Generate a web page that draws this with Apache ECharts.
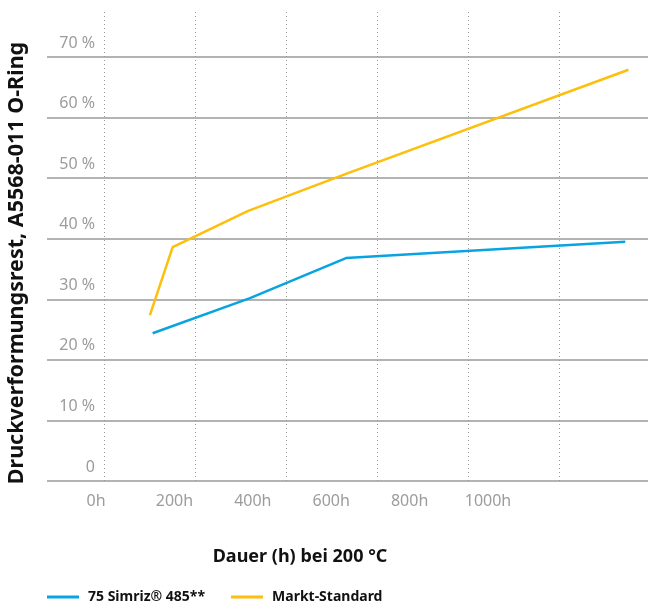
<!DOCTYPE html>
<html>
<head>
<meta charset="utf-8">
<script src="https://cdn.jsdelivr.net/npm/echarts@6/dist/echarts.min.js"></script>
<style>
    html, body { margin: 0; padding: 0; background: #fff; }
    #chart { width: 648px; height: 607px; }
</style>
</head>
<body>
<div id="chart"></div>
<script>
// Druckverformungsrest over time at 200 °C
const seriesNames = ['75 Simriz® 485**', 'Markt-Standard'];
const simrizPoints = [[107, 24.4], [321, 30.2], [532, 36.8], [1146, 39.5]];
const standardPoints = [[101, 27.4], [151, 38.6], [317, 44.6], [532, 50.7], [1153, 67.9]];
const xTickLabels = ['0h', '200h', '400h', '600h', '800h', '1000h'];
const yTickLabels = ['0', '10 %', '20 %', '30 %', '40 %', '50 %', '60 %', '70 %'];

const FONT = 'Noto Sans';
const GRAY = '#9c9c9c';

const chart = echarts.init(document.getElementById('chart'), null, { renderer: 'canvas' });

chart.setOption({
    backgroundColor: '#fff',
    animation: false,
    textStyle: { fontFamily: FONT },
    grid: [
        // horizontal grid lines + y labels
        { left: 47, right: 0, top: 57, bottom: 126 },
        // data + dotted vertical lines
        { left: 13, right: 0, top: 12, bottom: 126 },
        // x tick labels (spaced independently in the original)
        { left: 17.6, right: 81.6, top: 57, bottom: 126 }
    ],
    xAxis: [
        { gridIndex: 0, type: 'value', show: false, min: 0, max: 1 },
        {
            gridIndex: 1, type: 'value', min: -200, max: 1196, interval: 200,
            axisLine: { show: false }, axisTick: { show: false }, axisLabel: { show: false },
            splitLine: {
                show: true, showMinLine: false, showMaxLine: false,
                lineStyle: { color: '#999', width: 1, type: [1, 3] }
            }
        },
        {
            gridIndex: 2, type: 'value', min: -200, max: 1200, interval: 200,
            axisLine: { show: false }, axisTick: { show: false }, splitLine: { show: false },
            axisLabel: {
                margin: 12, color: GRAY, fontSize: 16, fontFamily: FONT,
                showMinLabel: true, showMaxLabel: true,
                formatter: v => {
                    const i = Math.round(v / 200);
                    return (i >= 0 && i < xTickLabels.length) ? xTickLabels[i] : '';
                }
            }
        }
    ],
    yAxis: [
        {
            gridIndex: 0, type: 'value', min: 0, max: 70, interval: 10,
            axisLine: { show: false }, axisTick: { show: false },
            splitLine: { show: true, lineStyle: { color: '#9a9a9a', width: 1.5 } },
            axisLabel: {
                margin: -48, color: GRAY, fontSize: 16, fontFamily: FONT,
                align: 'right', verticalAlign: 'bottom', padding: [0, 0, 6, 0],
                formatter: v => yTickLabels[Math.round(v / 10)] || ''
            }
        },
        { gridIndex: 1, type: 'value', min: 0, max: 77.43, show: false },
        { gridIndex: 2, type: 'value', min: 0, max: 1, show: false }
    ],
    legend: {
        left: 47, top: 590, padding: 0,
        itemWidth: 32, itemHeight: 3, itemGap: 26,
        icon: 'rect',
        textStyle: { fontFamily: FONT, fontSize: 14, fontWeight: 'bold', color: '#111', padding: [0, 0, 0, 4] },
        data: seriesNames
    },
    series: [
        {
            name: seriesNames[0], type: 'line', xAxisIndex: 1, yAxisIndex: 1,
            data: simrizPoints, symbol: 'none', color: '#0aa3e2',
            lineStyle: { width: 2.5, color: '#0aa3e2' }
        },
        {
            name: seriesNames[1], type: 'line', xAxisIndex: 1, yAxisIndex: 1,
            data: standardPoints, symbol: 'none', color: '#fdbf0a',
            lineStyle: { width: 2.5, color: '#fdbf0a' }
        }
    ],
    graphic: [
        {
            type: 'text', x: 17, y: 263, rotation: Math.PI / 2,
            style: {
                text: 'Druckverformungsrest, A5568-011 O-Ring',
                font: 'bold 21.5px "Noto Sans"', fill: '#111',
                align: 'center', verticalAlign: 'middle'
            }
        },
        {
            type: 'text', x: 300, y: 557,
            style: {
                text: 'Dauer (h) bei 200 °C',
                font: 'bold 18px "Noto Sans"', fill: '#111',
                align: 'center', verticalAlign: 'middle'
            }
        }
    ]
});
</script>
</body>
</html>
